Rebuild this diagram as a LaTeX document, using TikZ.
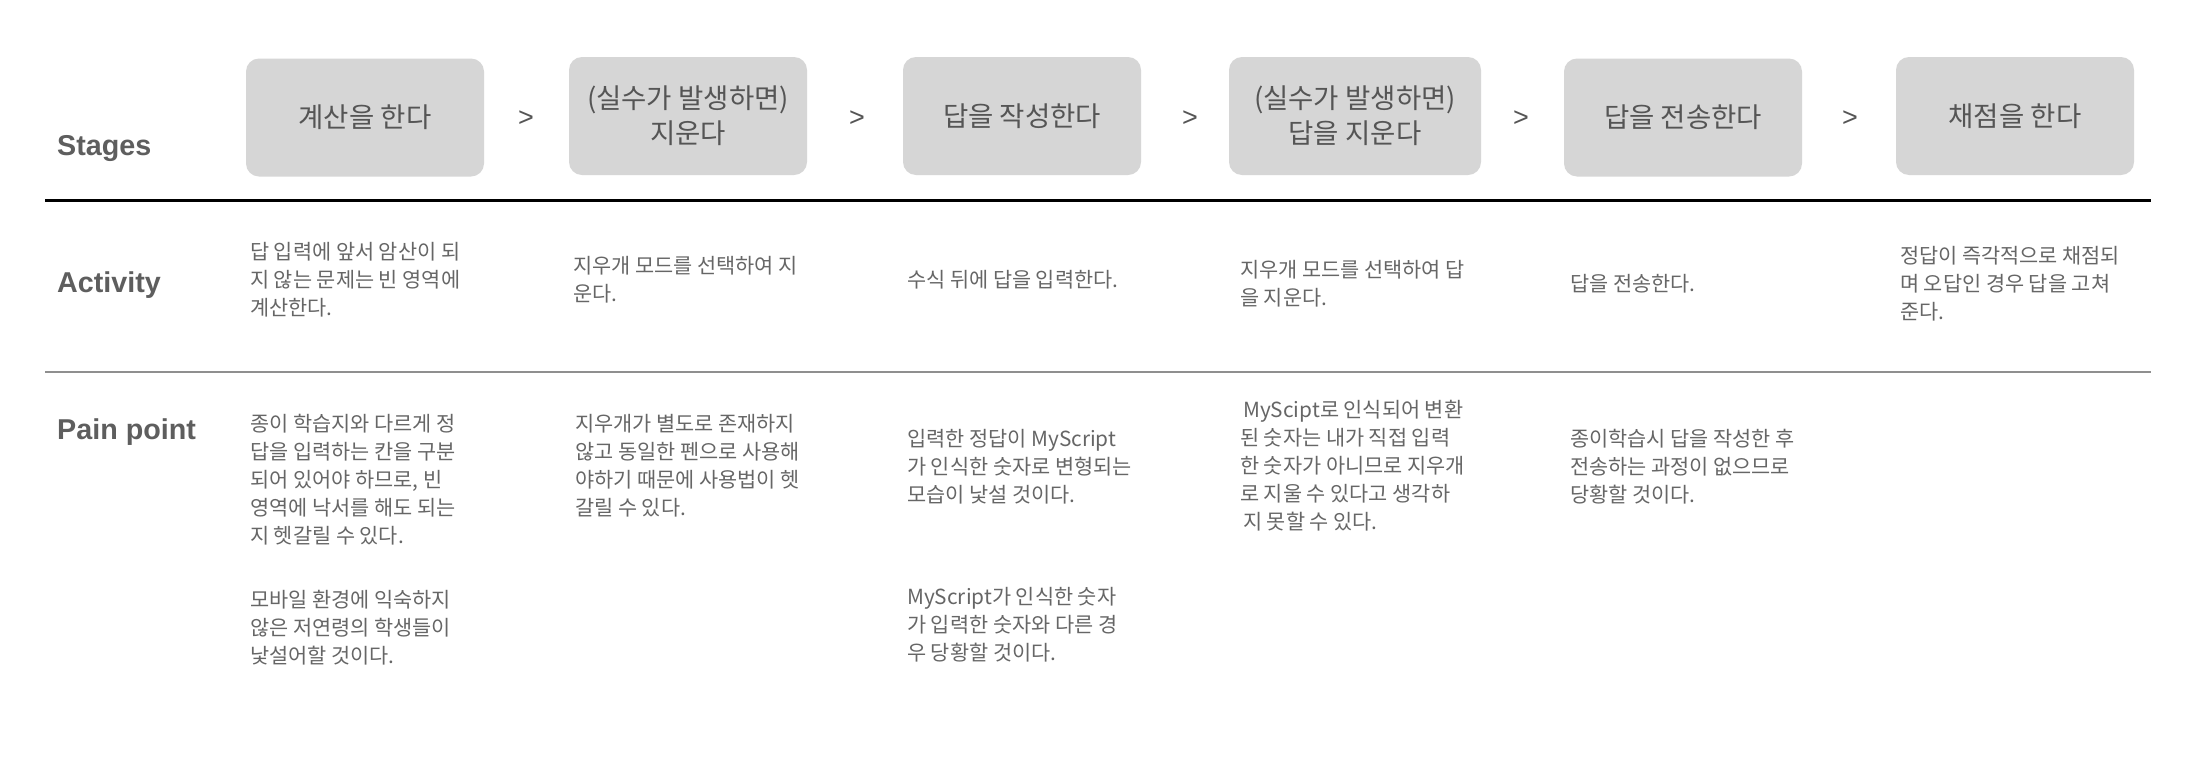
\documentclass[tikz,border=0pt]{standalone}
\usepackage{fontspec}
\setmainfont{Liberation Sans}
\newfontfamily\krfont{Noto Sans CJK KR}
\newfontfamily\labfont{Liberation Sans}
\definecolor{boxgray}{HTML}{D6D6D6}
\definecolor{stagetext}{HTML}{555555}
\definecolor{labelgray}{HTML}{5E5E5E}
\definecolor{bodygray}{HTML}{666666}
\definecolor{rulegray}{HTML}{8F8F8F}
\begin{document}
\begin{tikzpicture}[x=1pt,y=-1pt,
  stagebox/.style={fill=boxgray, rounded corners=13pt, draw=none, minimum width=238pt,
    minimum height=118pt, inner sep=0pt, align=center, text=stagetext,
    font=\krfont\fontsize{27.5}{35}\selectfont},
  rowlabel/.style={anchor=base west, inner sep=0pt, text=labelgray,
    font=\labfont\bfseries\fontsize{28.7}{34}\selectfont},
  bodytext/.style={anchor=base west, inner sep=0pt, align=left, text=bodygray,
    font=\krfont\fontsize{20.8}{28}\selectfont},
  chevron/.style={inner sep=0pt, text=stagetext, font=\labfont\fontsize{27}{30}\selectfont},
  blackrule/.style={line width=3pt, black},
  grayrule/.style={line width=2.5pt, rulegray}]
\useasboundingbox[fill=white] (0,0) rectangle (2192,764);

% row labels
\node[rowlabel] (lstages) at (57,155) {Stages};
\node[rowlabel] (lactivity) at (57,292) {Activity};
\node[rowlabel] (lpain) at (57,439) {Pain point};

% stage boxes
\node[stagebox] (s1) at (365,117.5) {계산을 한다};
\node[stagebox] (s2) at (688,116) {(실수가 발생하면)\\지운다};
\node[stagebox] (s3) at (1022,116) {답을 작성한다};
\node[stagebox, minimum width=252pt] (s4) at (1355,116) {(실수가 발생하면)\\답을 지운다};
\node[stagebox] (s5) at (1683,117.5) {답을 전송한다};
\node[stagebox] (s6) at (2015,116) {채점을 한다};

% separators
\node[chevron] (c1) at (526,119) {>};
\node[chevron] (c2) at (857,119) {>};
\node[chevron] (c3) at (1190,119) {>};
\node[chevron] (c4) at (1521,119) {>};
\node[chevron] (c5) at (1850,119) {>};

% rules
\coordinate (r1a) at (45,200);
\coordinate (r1b) at (2151,200);
\coordinate (r2a) at (45,372);
\coordinate (r2b) at (2151,372);
\draw[blackrule] (r1a) -- (r1b);
\draw[grayrule] (r2a) -- (r2b);

% activity (anchor = baseline of last line)
\node[bodytext] (a1) at (250,315) {답 입력에 앞서 암산이 되\\지 않는 문제는 빈 영역에\\계산한다.};
\node[bodytext] (a2) at (573,301) {지우개 모드를 선택하여 지\\운다.};
\node[bodytext] (a3) at (907,287) {수식 뒤에 답을 입력한다.};
\node[bodytext] (a4) at (1240,305) {지우개 모드를 선택하여 답\\을 지운다.};
\node[bodytext] (a5) at (1570,291) {답을 전송한다.};
\node[bodytext] (a6) at (1900,319) {정답이 즉각적으로 채점되\\며 오답인 경우 답을 고쳐\\준다.};

% pain points
\node[bodytext] (p1a) at (250,543) {종이 학습지와 다르게 정\\답을 입력하는 칸을 구분\\되어 있어야 하므로, 빈\\영역에 낙서를 해도 되는\\지 헷갈릴 수 있다.};
\node[bodytext] (p1b) at (250,663) {모바일 환경에 익숙하지\\않은 저연령의 학생들이\\낯설어할 것이다.};
\node[bodytext] (p2) at (575,515) {지우개가 별도로 존재하지\\않고 동일한 펜으로 사용해\\야하기 때문에 사용법이 헷\\갈릴 수 있다.};
\node[bodytext] (p3a) at (907,502) {입력한 정답이 MyScript\\가 인식한 숫자로 변형되는\\모습이 낯설 것이다.};
\node[bodytext] (p3b) at (907,660) {MyScript가 인식한 숫자\\가 입력한 숫자와 다른 경\\우 당황할 것이다.};
\node[bodytext] (p4) at (1240,529) {\hspace{3pt}MyScipt로 인식되어 변환\\된 숫자는 내가 직접 입력\\한 숫자가 아니므로 지우개\\로 지울 수 있다고 생각하\\\hspace{3pt}지 못할 수 있다.};
\node[bodytext] (p5) at (1570,502) {종이학습시 답을 작성한 후\\전송하는 과정이 없으므로\\당황할 것이다.};
\end{tikzpicture}
\end{document}
